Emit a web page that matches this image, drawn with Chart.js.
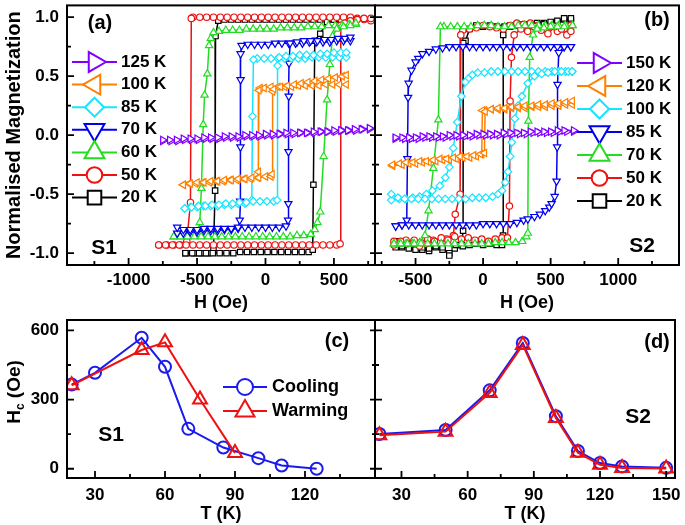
<!DOCTYPE html>
<html>
<head>
<meta charset="utf-8">
<script src="https://cdn.jsdelivr.net/npm/chart.js@4.4.1/dist/chart.umd.min.js"></script>
<style>
  html, body { margin: 0; padding: 0; background: #fff; }
  #wrap { position: relative; width: 685px; height: 525px; }
  #wrap canvas { position: absolute; left: 0; top: 0; }
</style>
</head>
<body>
<div id="wrap">
  <canvas id="pa" width="685" height="525"></canvas>
  <canvas id="pb" width="685" height="525"></canvas>
  <canvas id="pc" width="685" height="525"></canvas>
  <canvas id="pd" width="685" height="525"></canvas>
</div>
<script>
// ---- data: hysteresis loops, [H (Oe), M/Ms], descending branch then ascending branch ----
// sample S1 (panel a)
const a125K = [[760,0.05],[710,0.05],[660,0.04],[610,0.04],[560,0.04],[510,0.03],[460,0.03],[410,0.03],[360,0.02],[310,0.02],[260,0.02],[210,0.01],[160,0.01],[110,0.01],[60,0.0],[10,0.0],[-40,-0.01],[-90,-0.01],[-140,-0.01],[-190,-0.02],[-240,-0.02],[-290,-0.02],[-340,-0.03],[-390,-0.03],[-440,-0.03],[-490,-0.04],[-540,-0.04],[-590,-0.04],[-640,-0.05],[-690,-0.05],[-750,-0.05],
  [-750,-0.04],[-700,-0.04],[-650,-0.04],[-600,-0.03],[-550,-0.03],[-500,-0.03],[-450,-0.02],[-400,-0.02],[-350,-0.02],[-300,-0.01],[-250,-0.01],[-200,-0.01],[-150,0.0],[-100,0.0],[-50,0.0],[0,0.01],[50,0.01],[100,0.01],[150,0.02],[200,0.02],[250,0.02],[300,0.02],[350,0.03],[400,0.03],[450,0.03],[500,0.04],[550,0.04],[600,0.04],[650,0.05],[700,0.05],[760,0.06]];
const a100K = [[590,0.43],[540,0.43],[490,0.43],[440,0.43],[390,0.42],[340,0.42],[290,0.42],[240,0.42],[190,0.41],[140,0.41],[90,0.41],[40,0.41],[-10,0.40],[-40,0.40],[-48,0.38],[-52,-0.31],[-58,-0.36],[-110,-0.37],[-160,-0.37],[-210,-0.38],[-260,-0.38],[-310,-0.39],[-360,-0.39],[-410,-0.40],[-460,-0.40],[-510,-0.41],[-560,-0.41],[-600,-0.42],
  [-600,-0.42],[-550,-0.41],[-500,-0.40],[-450,-0.40],[-400,-0.39],[-350,-0.39],[-300,-0.38],[-250,-0.38],[-200,-0.37],[-150,-0.37],[-100,-0.36],[-50,-0.36],[0,-0.35],[40,-0.35],[48,-0.33],[52,0.37],[60,0.39],[110,0.41],[160,0.42],[210,0.43],[260,0.44],[310,0.45],[360,0.46],[410,0.47],[460,0.48],[510,0.49],[560,0.50],[590,0.51]];
const a85K = [[590,0.66],[540,0.66],[490,0.66],[440,0.66],[390,0.66],[340,0.66],[290,0.65],[240,0.65],[190,0.65],[140,0.65],[90,0.65],[40,0.65],[-10,0.65],[-60,0.65],[-88,0.64],[-95,0.16],[-100,-0.55],[-150,-0.58],[-200,-0.58],[-250,-0.59],[-300,-0.59],[-350,-0.60],[-400,-0.60],[-450,-0.60],[-500,-0.61],[-550,-0.61],[-590,-0.62],
  [-590,-0.62],[-540,-0.61],[-490,-0.60],[-440,-0.60],[-390,-0.59],[-340,-0.59],[-290,-0.58],[-240,-0.58],[-190,-0.57],[-140,-0.57],[-90,-0.56],[-40,-0.56],[10,-0.56],[60,-0.56],[85,-0.55],[88,0.59],[100,0.66],[150,0.67],[200,0.67],[250,0.68],[300,0.68],[350,0.68],[400,0.69],[450,0.69],[500,0.70],[550,0.70],[590,0.70]];
const a70K = [[620,0.80],[570,0.80],[520,0.80],[470,0.79],[420,0.79],[370,0.79],[320,0.79],[270,0.78],[220,0.78],[170,0.78],[120,0.78],[70,0.78],[20,0.77],[-30,0.77],[-80,0.77],[-130,0.77],[-175,0.76],[-182,0.69],[-182,0.47],[-183,-0.10],[-185,-0.56],[-188,-0.72],[-200,-0.79],[-250,-0.80],[-300,-0.80],[-350,-0.81],[-400,-0.81],[-450,-0.81],[-500,-0.82],[-550,-0.82],[-600,-0.83],[-645,-0.83],
  [-645,-0.78],[-600,-0.80],[-550,-0.80],[-500,-0.80],[-450,-0.79],[-400,-0.79],[-350,-0.79],[-300,-0.79],[-250,-0.79],[-200,-0.78],[-150,-0.78],[-100,-0.78],[-50,-0.78],[0,-0.78],[50,-0.78],[100,-0.78],[150,-0.77],[165,-0.72],[167,-0.58],[168,-0.14],[170,0.33],[172,0.61],[180,0.78],[230,0.79],[280,0.80],[330,0.80],[380,0.80],[430,0.81],[480,0.81],[530,0.82],[580,0.82],[620,0.83]];
const a60K = [[660,0.94],[610,0.94],[560,0.93],[510,0.93],[460,0.93],[410,0.92],[360,0.92],[310,0.92],[260,0.91],[210,0.91],[160,0.91],[110,0.91],[60,0.90],[10,0.90],[-40,0.90],[-90,0.90],[-140,0.90],[-190,0.89],[-240,0.89],[-290,0.89],[-340,0.88],[-380,0.87],[-400,0.82],[-412,0.76],[-425,0.52],[-445,0.34],[-455,0.09],[-468,-0.45],[-480,-0.74],[-500,-0.84],[-550,-0.85],[-600,-0.86],[-670,-0.86],
  [-670,-0.86],[-620,-0.86],[-570,-0.86],[-520,-0.86],[-470,-0.86],[-420,-0.86],[-370,-0.86],[-320,-0.86],[-270,-0.86],[-220,-0.86],[-170,-0.86],[-120,-0.86],[-70,-0.86],[-20,-0.86],[30,-0.86],[80,-0.86],[130,-0.86],[180,-0.86],[230,-0.85],[280,-0.85],[330,-0.84],[360,-0.80],[380,-0.74],[400,-0.65],[425,-0.18],[450,0.30],[470,0.60],[490,0.84],[520,0.90],[570,0.92],[620,0.93],[660,0.95]];
const a50K = [[770,0.97],[720,0.98],[670,0.99],[620,1.0],[570,1.0],[520,1.0],[470,1.0],[420,1.0],[370,1.0],[320,1.0],[270,1.0],[220,1.0],[170,1.0],[120,1.0],[70,1.0],[20,1.0],[-30,1.0],[-80,1.0],[-130,1.0],[-180,1.0],[-230,1.0],[-280,1.0],[-330,1.0],[-380,1.0],[-430,1.0],[-480,1.0],[-530,1.0],[-542,0.99],[-548,-0.57],[-575,-0.90],[-620,-0.93],[-670,-0.93],[-720,-0.93],[-780,-0.93],
  [-780,-0.93],[-730,-0.93],[-680,-0.93],[-630,-0.93],[-580,-0.93],[-530,-0.93],[-480,-0.93],[-430,-0.93],[-380,-0.93],[-330,-0.93],[-280,-0.93],[-230,-0.93],[-180,-0.93],[-130,-0.93],[-80,-0.93],[-30,-0.93],[20,-0.93],[70,-0.93],[120,-0.93],[170,-0.93],[220,-0.93],[270,-0.93],[320,-0.93],[370,-0.93],[420,-0.93],[470,-0.93],[520,-0.93],[545,-0.92],[550,0.93],[580,0.95],[620,0.97],[670,0.98],[720,0.99],[770,0.99]];
const a20K = [[600,0.98],[550,0.98],[500,0.98],[450,0.98],[400,0.98],[350,0.98],[300,0.98],[250,0.98],[200,0.98],[150,0.98],[100,0.98],[50,0.98],[0,0.98],[-50,0.98],[-100,0.98],[-150,0.98],[-200,0.98],[-250,0.98],[-300,0.98],[-345,0.97],[-365,0.84],[-368,-0.47],[-380,-0.97],[-420,-1.0],[-470,-1.0],[-520,-1.0],[-585,-1.0],
  [-585,-1.0],[-535,-1.0],[-485,-1.0],[-435,-1.0],[-385,-1.0],[-335,-1.0],[-285,-1.0],[-235,-1.0],[-185,-0.99],[-135,-0.99],[-85,-0.99],[-35,-0.99],[15,-0.99],[65,-0.99],[115,-0.99],[165,-0.99],[215,-0.99],[265,-0.99],[315,-0.99],[345,-0.97],[350,-0.42],[360,0.80],[400,0.86],[450,0.96],[500,0.98],[550,0.98],[600,0.98]];

// sample S2 (panel b)
const b150K = [[670,0.03],[620,0.03],[570,0.03],[520,0.02],[470,0.02],[420,0.02],[370,0.02],[320,0.01],[270,0.01],[220,0.01],[170,0.01],[120,0.0],[70,0.0],[20,0.0],[-30,0.0],[-80,-0.01],[-130,-0.01],[-180,-0.01],[-230,-0.01],[-280,-0.02],[-330,-0.02],[-380,-0.02],[-430,-0.02],[-480,-0.03],[-530,-0.03],[-580,-0.03],[-650,-0.03],
  [-650,-0.02],[-600,-0.02],[-550,-0.02],[-500,-0.02],[-450,-0.01],[-400,-0.01],[-350,-0.01],[-300,-0.01],[-250,0.0],[-200,0.0],[-150,0.0],[-100,0.0],[-50,0.01],[0,0.01],[50,0.01],[100,0.01],[150,0.02],[200,0.02],[250,0.02],[300,0.02],[350,0.03],[400,0.03],[450,0.03],[500,0.03],[550,0.04],[600,0.04],[670,0.04]];
const b120K = [[660,0.26],[610,0.26],[560,0.25],[510,0.25],[460,0.24],[410,0.24],[360,0.24],[310,0.23],[260,0.23],[210,0.23],[160,0.22],[110,0.22],[60,0.22],[10,0.21],[-5,0.21],[-10,-0.16],[-50,-0.18],[-100,-0.19],[-150,-0.19],[-200,-0.20],[-250,-0.21],[-300,-0.21],[-350,-0.22],[-400,-0.23],[-450,-0.23],[-500,-0.24],[-550,-0.24],[-600,-0.25],[-670,-0.26],
  [-670,-0.25],[-620,-0.24],[-570,-0.23],[-520,-0.23],[-470,-0.22],[-420,-0.22],[-370,-0.21],[-320,-0.20],[-270,-0.20],[-220,-0.19],[-170,-0.18],[-120,-0.18],[-70,-0.17],[-20,-0.16],[10,-0.15],[15,0.20],[60,0.22],[110,0.23],[160,0.23],[210,0.24],[260,0.24],[310,0.25],[360,0.25],[410,0.26],[460,0.26],[510,0.27],[560,0.27],[610,0.28],[660,0.29]];
const b100K = [[660,0.54],[610,0.54],[560,0.54],[510,0.54],[460,0.54],[410,0.54],[360,0.54],[310,0.54],[260,0.54],[210,0.54],[160,0.54],[110,0.54],[60,0.54],[10,0.53],[-40,0.53],[-80,0.51],[-110,0.48],[-132,0.45],[-160,0.33],[-191,0.11],[-221,-0.11],[-250,-0.27],[-279,-0.36],[-320,-0.43],[-375,-0.47],[-420,-0.50],[-470,-0.52],[-520,-0.53],[-570,-0.54],[-620,-0.54],[-680,-0.55],
  [-680,-0.50],[-630,-0.53],[-580,-0.54],[-530,-0.54],[-480,-0.54],[-430,-0.54],[-380,-0.54],[-330,-0.54],[-280,-0.54],[-230,-0.54],[-180,-0.54],[-130,-0.54],[-80,-0.53],[-30,-0.53],[20,-0.53],[70,-0.52],[110,-0.50],[140,-0.47],[165,-0.40],[184,-0.31],[200,-0.18],[213,-0.06],[235,0.14],[260,0.25],[287,0.33],[331,0.44],[380,0.50],[434,0.52],[480,0.53],[530,0.54],[580,0.54],[630,0.54],[660,0.54]];
const b85K = [[650,0.75],[600,0.75],[550,0.75],[500,0.75],[450,0.75],[400,0.75],[350,0.75],[300,0.75],[250,0.75],[200,0.75],[150,0.75],[100,0.75],[50,0.75],[0,0.75],[-50,0.75],[-100,0.75],[-150,0.75],[-200,0.75],[-250,0.75],[-300,0.74],[-350,0.73],[-400,0.71],[-449,0.69],[-480,0.65],[-500,0.62],[-530,0.55],[-551,0.44],[-555,0.32],[-560,-0.20],[-565,-0.72],[-600,-0.76],[-647,-0.77],
  [-647,-0.77],[-600,-0.76],[-550,-0.76],[-500,-0.76],[-450,-0.76],[-400,-0.76],[-350,-0.76],[-300,-0.76],[-250,-0.76],[-200,-0.76],[-150,-0.76],[-100,-0.76],[-50,-0.76],[0,-0.75],[50,-0.75],[100,-0.75],[150,-0.75],[200,-0.75],[250,-0.74],[300,-0.72],[331,-0.71],[380,-0.69],[420,-0.67],[460,-0.64],[490,-0.61],[507,-0.58],[530,-0.52],[544,-0.39],[548,-0.10],[551,0.43],[560,0.70],[600,0.75],[650,0.75]];
const b70K = [[662,0.93],[610,0.93],[560,0.93],[510,0.93],[460,0.93],[410,0.93],[360,0.93],[310,0.93],[260,0.93],[210,0.92],[160,0.92],[110,0.92],[60,0.93],[10,0.93],[-40,0.93],[-90,0.92],[-140,0.92],[-190,0.92],[-240,0.92],[-290,0.92],[-316,0.92],[-331,0.13],[-368,-0.28],[-404,-0.64],[-430,-0.85],[-470,-0.91],[-520,-0.92],[-570,-0.92],[-620,-0.92],[-660,-0.92],
  [-660,-0.92],[-610,-0.92],[-560,-0.92],[-510,-0.92],[-460,-0.92],[-410,-0.92],[-360,-0.92],[-310,-0.92],[-260,-0.92],[-210,-0.92],[-160,-0.92],[-110,-0.92],[-60,-0.92],[-10,-0.92],[40,-0.92],[90,-0.91],[140,-0.91],[190,-0.91],[240,-0.91],[290,-0.90],[320,-0.86],[331,-0.83],[335,0.12],[345,0.66],[370,0.85],[400,0.90],[450,0.91],[500,0.92],[550,0.92],[600,0.92],[662,0.93]];
const b50K = [[650,0.93],[600,0.90],[550,0.88],[500,0.92],[450,0.90],[400,0.93],[350,0.95],[300,0.94],[250,0.95],[200,0.93],[150,0.90],[100,0.91],[50,0.92],[0,0.93],[-50,0.91],[-100,0.90],[-150,0.89],[-165,0.85],[-170,-0.50],[-206,-0.67],[-220,-0.85],[-270,-0.88],[-320,-0.90],[-370,-0.89],[-420,-0.92],[-470,-0.94],[-520,-0.91],[-570,-0.89],[-620,-0.92],[-660,-0.90],
  [-660,-0.93],[-610,-0.90],[-560,-0.92],[-510,-0.89],[-460,-0.91],[-410,-0.88],[-360,-0.90],[-310,-0.87],[-260,-0.89],[-210,-0.86],[-160,-0.88],[-110,-0.87],[-60,-0.89],[-10,-0.88],[40,-0.90],[90,-0.88],[140,-0.87],[180,-0.87],[195,-0.60],[200,0.29],[210,0.66],[230,0.85],[280,0.90],[330,0.88],[380,0.92],[430,0.89],[480,0.86],[530,0.92],[580,0.90],[620,0.85],[650,0.88]];
const b20K = [[650,0.97],[600,0.98],[550,0.96],[500,0.93],[450,0.95],[400,0.94],[350,0.93],[300,0.92],[250,0.93],[200,0.92],[150,0.91],[100,0.92],[50,0.93],[0,0.92],[-50,0.93],[-100,0.90],[-130,0.80],[-147,0.78],[-148,-0.81],[-160,-0.93],[-210,-0.96],[-250,-1.0],[-300,-0.97],[-350,-0.95],[-400,-0.98],[-450,-0.97],[-500,-0.95],[-550,-0.93],[-600,-0.95],[-647,-0.90],
  [-647,-0.95],[-600,-0.94],[-550,-0.96],[-500,-0.97],[-450,-0.95],[-400,-0.96],[-350,-0.94],[-300,-0.95],[-250,-1.02],[-200,-0.93],[-150,-0.94],[-100,-0.93],[-50,-0.92],[0,-0.93],[50,-0.92],[100,-0.93],[140,-0.93],[148,-0.85],[149,0.85],[160,0.92],[200,0.93],[250,0.94],[300,0.94],[350,0.93],[400,0.95],[450,0.94],[500,0.96],[550,0.97],[600,0.99],[650,0.99]];

const labelsA = ['125 K', '100 K', '85 K', '70 K', '60 K', '50 K', '20 K'];
const labelsB = ['150 K', '120 K', '100 K', '85 K', '70 K', '50 K', '20 K'];

// ---- data: coercive field vs temperature ----
const cTcool = [20, 30, 50, 60, 70, 85, 100, 110, 125];
const cHcool = [365, 416, 568, 442, 173, 92, 46, 14, 0];
const cTwarm = [20, 50, 60, 75, 90];
const cHwarm = [362, 515, 548, 300, 68];
const dT = [20, 50, 70, 85, 100, 110, 120, 130, 150];
const dHcool = [151, 168, 340, 545, 228, 77, 25, 10, 4];
const dHwarm = [145, 161, 329, 537, 220, 69, 17, 3, 1];

// ---- tick labels ----
const ticksHa = [-1000, -500, 0, 500];
const ticksHb = [-500, 0, 500, 1000];
const ticksM = [-1, -0.5, 0, 0.5, 1];
const ticksTc = [30, 60, 90, 120];
const ticksTd = [30, 60, 90, 120, 150];
const ticksHc = [0, 300, 600];

// ---- styling ----
const FONT = "'Liberation Sans', Arial, sans-serif";
Chart.defaults.font.family = FONT;
Chart.defaults.font.weight = 'bold';
Chart.defaults.font.size = 17;
Chart.defaults.color = '#000';

const colors = ['#8000ff', '#ff8000', '#18e4ff', '#0000ee', '#22dd22', '#ee1111', '#000000'];
const styles = [['triangle', 90], ['triangle', 270], ['rectRot', 0], ['triangle', 180], ['triangle', 0], ['circle', 0], ['rect', 0]];
const dataRadius = { triangle: 4.2, rectRot: 3.8, circle: 3.2, rect: 3.8 };

function loop(label, pts, i) {
  return {
    label,
    data: pts.map(p => ({ x: p[0], y: p[1] })),
    showLine: true,
    borderColor: colors[i],
    borderWidth: 1.5,
    pointStyle: styles[i][0],
    pointRotation: styles[i][1],
    pointRadius: dataRadius[styles[i][0]],
    pointBorderWidth: 1.2,
    pointBorderColor: colors[i],
    pointBackgroundColor: '#fff'
  };
}

function mark(ctx, style, rot, r, x, y) {
  ctx.beginPath();
  if (style === 'circle') {
    ctx.arc(x, y, r, 0, Math.PI * 2);
  } else if (style === 'rect') {
    const s = r * Math.SQRT1_2;
    ctx.rect(x - s, y - s, 2 * s, 2 * s);
  } else if (style === 'rectRot') {
    ctx.moveTo(x, y - r); ctx.lineTo(x + r, y); ctx.lineTo(x, y + r); ctx.lineTo(x - r, y); ctx.closePath();
  } else {
    let a = rot * Math.PI / 180;
    ctx.moveTo(x + Math.sin(a) * r, y - Math.cos(a) * r);
    a += 2 * Math.PI / 3;
    ctx.lineTo(x + Math.sin(a) * r, y - Math.cos(a) * r);
    a += 2 * Math.PI / 3;
    ctx.lineTo(x + Math.sin(a) * r, y - Math.cos(a) * r);
    ctx.closePath();
  }
  ctx.fill();
  ctx.stroke();
}

function marks(lo, hi, minor, major) {
  const out = [];
  for (let k = Math.ceil(lo / minor - 1e-9); k * minor <= hi + 1e-9; k++) {
    const v = k * minor;
    if (v <= lo + 1e-9 || v >= hi - 1e-9) continue;
    out.push([v, Math.abs(v / major - Math.round(v / major)) < 1e-6]);
  }
  return out;
}

// box around the plot and inward tick marks
const frame = {
  id: 'frame',
  afterDatasetsDraw(chart, args, o) {
    const { ctx, chartArea: a } = chart;
    const sx = chart.scales.x, sy = chart.scales.y;
    ctx.save();
    ctx.strokeStyle = '#000';
    ctx.lineWidth = 2;
    ctx.strokeRect(a.left, a.top, a.right - a.left, a.bottom - a.top);
    ctx.lineWidth = 1.8;
    ctx.beginPath();
    for (const [v, big] of marks(sx.min, sx.max, o.xMinor, o.xMajor)) {
      const p = sx.getPixelForValue(v);
      ctx.moveTo(p, a.bottom);
      ctx.lineTo(p, a.bottom - (big ? 7 : 4));
    }
    for (const [v, big] of marks(sy.min, sy.max, o.yMinor, o.yMajor)) {
      const p = sy.getPixelForValue(v);
      ctx.moveTo(a.left - (o.cross ? (big ? 5 : 3) : 0), p);
      ctx.lineTo(a.left + (big ? 7 : 4), p);
    }
    ctx.stroke();
    ctx.restore();
  }
};

// free text: panel letters, sample names, subscripted axis title
const notes = {
  id: 'notes',
  afterDraw(chart, args, o) {
    const ctx = chart.ctx;
    ctx.save();
    ctx.fillStyle = '#000';
    ctx.textAlign = 'center';
    ctx.textBaseline = 'middle';
    for (const n of (o.items || [])) {
      ctx.font = `bold ${n.size}px ${FONT}`;
      ctx.fillText(n.text, n.x, n.y);
    }
    if (o.hc) {
      const { x, y } = o.hc;
      ctx.translate(x, y);
      ctx.rotate(-Math.PI / 2);
      ctx.textAlign = 'left';
      ctx.textBaseline = 'alphabetic';
      const big = `bold 19px ${FONT}`, small = `bold 12px ${FONT}`;
      ctx.font = big; const w1 = ctx.measureText('H').width, w3 = ctx.measureText(' (Oe)').width;
      ctx.font = small; const w2 = ctx.measureText('c').width;
      let p = -(w1 + w2 + w3) / 2;
      ctx.font = big; ctx.fillText('H', p, 7); p += w1;
      ctx.font = small; ctx.fillText('c', p, 11); p += w2;
      ctx.font = big; ctx.fillText(' (Oe)', p, 7);
    }
    ctx.restore();
  }
};

// legend with a line through the marker
const key = {
  id: 'key',
  afterDraw(chart, args, o) {
    if (!o.y0) return;
    const ctx = chart.ctx;
    chart.data.datasets.forEach((ds, i) => {
      const y = o.y0 + i * o.dy;
      ctx.save();
      ctx.strokeStyle = ds.borderColor;
      ctx.lineWidth = o.lw;
      ctx.beginPath(); ctx.moveTo(o.x0, y); ctx.lineTo(o.x1, y); ctx.stroke();
      ctx.fillStyle = '#fff';
      ctx.lineWidth = o.mw;
      mark(ctx, ds.pointStyle, ds.pointRotation || 0, o.r[ds.pointStyle], (o.x0 + o.x1) / 2, y);
      ctx.fillStyle = '#000';
      ctx.font = `bold ${o.size}px ${FONT}`;
      ctx.textAlign = 'left';
      ctx.textBaseline = 'middle';
      ctx.fillText(ds.label, o.tx, y);
      ctx.restore();
    });
  }
};

function xAxis(min, max, vals, title, height, pad) {
  return {
    type: 'linear', min, max,
    afterBuildTicks: s => { s.ticks = vals.map(v => ({ value: v })); },
    afterFit: s => { s.height = height; s.paddingLeft = 0; s.paddingRight = 0; },
    grid: { display: false, drawTicks: false }, border: { display: false },
    ticks: { autoSkip: false, maxRotation: 0, padding: pad, callback: v => String(v) },
    title: { display: true, text: title, font: { size: 18 }, padding: { top: 0, bottom: 0 } }
  };
}
function yAxis(min, max, vals, dec, title, show) {
  return {
    type: 'linear', min, max, display: show,
    afterBuildTicks: s => { s.ticks = vals.map(v => ({ value: v })); },
    afterFit: s => { s.width = show ? 67 : 0; s.paddingTop = 0; s.paddingBottom = 0; },
    grid: { display: false, drawTicks: false }, border: { display: false },
    ticks: { autoSkip: false, padding: 8, callback: v => v.toFixed(dec) },
    title: { display: !!title, text: title || '', font: { size: 20 }, padding: { top: 2, bottom: 0 } }
  };
}

const base = { responsive: false, animation: false, events: [] };
const loopLegend = (x0, y0, dy) => ({
  x0, x1: x0 + 45, tx: x0 + 49, y0, dy, size: 17, lw: 2, mw: 2,
  r: { triangle: 11.5, circle: 7.8, rect: 9.6, rectRot: 9.5 }
});

new Chart(document.getElementById('pa'), {
  type: 'scatter',
  data: { datasets: [a125K, a100K, a85K, a70K, a60K, a50K, a20K].map((d, i) => loop(labelsA[i], d, i)) },
  options: {
    ...base,
    layout: { padding: { left: 0, right: 310, top: 1, bottom: 211.2 } },
    scales: {
      x: xAxis(-1450, 800, ticksHa, 'H (Oe)', 48.8, 5),
      y: yAxis(-1.1, 1.1, ticksM, 1, 'Normalised Magnetization', true)
    },
    plugins: {
      legend: { display: false }, tooltip: { enabled: false },
      frame: { xMinor: 250, xMajor: 500, yMinor: 0.25, yMajor: 0.5, cross: false },
      key: loopLegend(72, 62, 22.6),
      notes: { items: [{ text: '(a)', x: 100, y: 23, size: 20 }, { text: 'S1', x: 104, y: 248, size: 21 }] }
    }
  },
  plugins: [frame, key, notes]
});

new Chart(document.getElementById('pb'), {
  type: 'scatter',
  data: { datasets: [b150K, b120K, b100K, b85K, b70K, b50K, b20K].map((d, i) => loop(labelsB[i], d, i)) },
  options: {
    ...base,
    layout: { padding: { left: 375, right: 6, top: 1, bottom: 211.2 } },
    scales: {
      x: xAxis(-800, 1450, ticksHb, 'H (Oe)', 48.8, 5),
      y: yAxis(-1.1, 1.1, ticksM, 1, '', false)
    },
    plugins: {
      legend: { display: false }, tooltip: { enabled: false },
      frame: { xMinor: 250, xMajor: 500, yMinor: 0.25, yMajor: 0.5, cross: true },
      key: loopLegend(577, 63, 23),
      notes: { items: [{ text: '(b)', x: 657, y: 20, size: 20 }, { text: 'S2', x: 642, y: 246, size: 21 }] }
    }
  },
  plugins: [frame, key, notes]
});

const hcSet = (label, xs, ys, color, style, r, order) => ({
  label, order,
  data: xs.map((t, i) => ({ x: t, y: ys[i] })),
  showLine: true, borderColor: color, borderWidth: 2,
  pointStyle: style, pointRadius: r, pointBorderWidth: 2,
  pointBorderColor: color, pointBackgroundColor: 'rgba(255,255,255,0)'
});

new Chart(document.getElementById('pc'), {
  type: 'scatter',
  data: {
    datasets: [
      hcSet('Cooling', cTcool, cHcool, '#1a1aee', 'circle', 6, 1),
      hcSet('Warming', cTwarm, cHwarm, '#ee1111', 'triangle', 8, 0)
    ]
  },
  options: {
    ...base,
    layout: { padding: { left: 0, right: 310, top: 320, bottom: 0 } },
    scales: {
      x: xAxis(18, 150, ticksTc, 'T (K)', 47, 7),
      y: yAxis(-40, 645, ticksHc, 0, '', true)
    },
    plugins: {
      legend: { display: false }, tooltip: { enabled: false },
      frame: { xMinor: 15, xMajor: 30, yMinor: 150, yMajor: 300, cross: false },
      key: { x0: 223, x1: 267, tx: 272, y0: 387, dy: 24, size: 18, lw: 2, mw: 2, r: { circle: 8, triangle: 11 } },
      notes: {
        items: [{ text: '(c)', x: 337, y: 341, size: 20 }, { text: 'S1', x: 111, y: 435, size: 21 }],
        hc: { x: 13, y: 392 }
      }
    }
  },
  plugins: [frame, key, notes]
});

new Chart(document.getElementById('pd'), {
  type: 'scatter',
  data: {
    datasets: [
      hcSet('Cooling', dT, dHcool, '#1a1aee', 'circle', 6, 1),
      hcSet('Warming', dT, dHwarm, '#ee1111', 'triangle', 8, 0)
    ]
  },
  options: {
    ...base,
    layout: { padding: { left: 375, right: 6, top: 320, bottom: 0 } },
    scales: {
      x: xAxis(18, 154, ticksTd, 'T (K)', 47, 7),
      y: yAxis(-40, 645, ticksHc, 0, '', false)
    },
    plugins: {
      legend: { display: false }, tooltip: { enabled: false },
      frame: { xMinor: 15, xMajor: 30, yMinor: 150, yMajor: 300, cross: true },
      notes: { items: [{ text: '(d)', x: 657, y: 342, size: 20 }, { text: 'S2', x: 638, y: 417, size: 21 }] }
    }
  },
  plugins: [frame, notes]
});
</script>
</body>
</html>
